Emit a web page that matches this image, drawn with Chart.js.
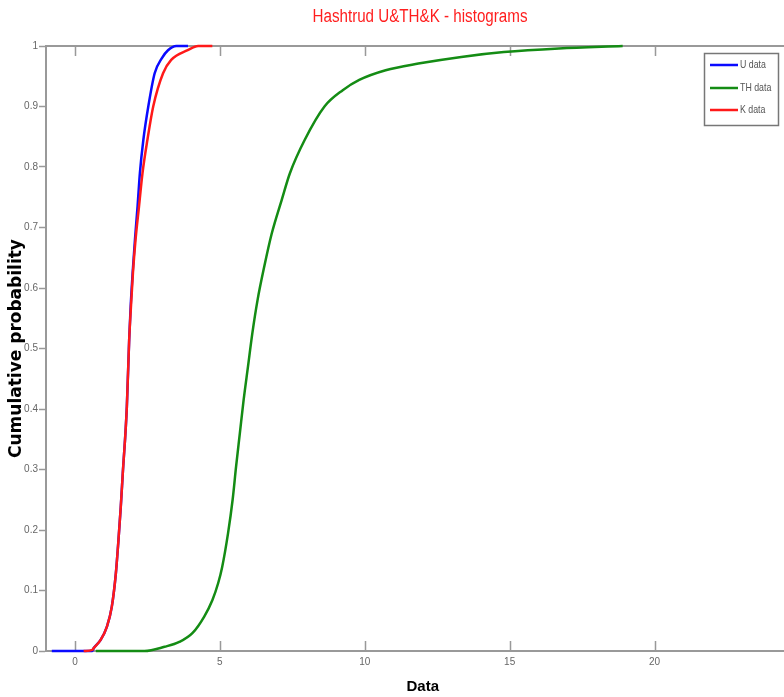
<!DOCTYPE html>
<html><head><meta charset="utf-8">
<script src="https://cdn.jsdelivr.net/npm/chart.js@4/dist/chart.umd.min.js"></script>
<style>
html,body{margin:0;padding:0;background:#fff;overflow:hidden;width:784px;height:697px}
#wrap{position:absolute;left:0;top:0;width:810px;height:697px}
</style></head><body>
<div id="wrap"><canvas id="c"></canvas></div>
<script>
const chartTitle = 'Hashtrud U&TH&K - histograms';
const xAxisTitle = 'Data';
const yAxisTitle = 'Cumulative probability';
const seriesLabels = ['U data', 'TH data', 'K data'];
const seriesColors = ['rgb(10,10,255)', 'rgb(20,140,20)', 'rgb(255,25,25)'];

const uX = [-0.8, 0.6, 0.65, 0.88, 1.1, 1.27, 1.41, 1.5, 1.58, 1.65, 1.79, 1.87, 1.92, 1.99, 2.07, 2.16, 2.24, 2.36, 2.53, 2.75, 3.0, 3.21, 3.5, 3.9];
const uY = [0, 0, 0.005, 0.018, 0.04, 0.073, 0.128, 0.183, 0.238, 0.294, 0.404, 0.514, 0.568, 0.625, 0.68, 0.735, 0.79, 0.845, 0.9, 0.955, 0.98, 0.993, 1, 1];

const thX = [0.72, 2.4, 3.09, 3.6, 4.06, 4.46, 4.74, 4.94, 5.08, 5.28, 5.44, 5.56, 5.69, 5.82, 5.97, 6.12, 6.3, 6.53, 6.79, 7.13, 7.42, 7.93, 8.61, 9.24, 9.81, 10.72, 11.85, 13.33, 14.8, 16.7, 18.9];
const thY = [0, 0, 0.007, 0.015, 0.03, 0.057, 0.084, 0.112, 0.139, 0.194, 0.25, 0.305, 0.36, 0.415, 0.47, 0.525, 0.58, 0.635, 0.69, 0.745, 0.79, 0.845, 0.9, 0.927, 0.944, 0.96, 0.971, 0.982, 0.99, 0.996, 1];

const kX = [0.3, 0.6, 0.65, 0.88, 1.1, 1.27, 1.41, 1.5, 1.58, 1.65, 1.79, 1.87, 1.93, 2.0, 2.09, 2.21, 2.33, 2.5, 2.7, 3.04, 3.32, 3.89, 4.25, 4.74];
const kY = [0, 0.002, 0.005, 0.018, 0.04, 0.073, 0.128, 0.183, 0.238, 0.294, 0.404, 0.514, 0.568, 0.625, 0.68, 0.735, 0.79, 0.845, 0.9, 0.955, 0.977, 0.993, 1, 1];

const xTicks = [0, 5, 10, 15, 20, 25];
const xTickLabels = ['0', '5', '10', '15', '20', '25'];
const yTicks = [0, 0.1, 0.2, 0.3, 0.4, 0.5, 0.6, 0.7, 0.8, 0.9, 1];
const yTickLabels = ['0', '0.1', '0.2', '0.3', '0.4', '0.5', '0.6', '0.7', '0.8', '0.9', '1'];
const xMin = -1, xMax = 25, yMin = 0, yMax = 1;

const SANS = "'Liberation Sans', Arial, sans-serif";
const AXIS = '#999';

function pts(xs, ys) { return xs.map((x, i) => ({ x: x, y: ys[i] })); }

function squeezedText(ctx, text, x, y, targetWidth) {
  const w = ctx.measureText(text).width;
  const k = targetWidth / w;
  ctx.save();
  ctx.translate(x, y);
  ctx.scale(k, 1);
  ctx.fillText(text, 0, 0);
  ctx.restore();
}

const frame = {
  id: 'frame',
  beforeDatasetsDraw(chart) {
    const { ctx, chartArea: a, scales: { x } } = chart;
    ctx.save();
    ctx.strokeStyle = AXIS;
    ctx.lineWidth = 2;
    ctx.beginPath();
    ctx.moveTo(a.left, a.top); ctx.lineTo(a.right, a.top);
    ctx.stroke();
    ctx.lineWidth = 1.5;
    ctx.beginPath();
    xTicks.forEach(v => {
      const px = Math.round(x.getPixelForValue(v)) + 0.5;
      ctx.moveTo(px, a.bottom); ctx.lineTo(px, a.bottom - 10);
      ctx.moveTo(px, a.top); ctx.lineTo(px, a.top + 10);
    });
    ctx.stroke();
    ctx.restore();
  },
  afterDatasetsDraw(chart) {
    const ctx = chart.ctx;
    ctx.save();
    // title
    ctx.fillStyle = 'rgb(255,30,30)';
    ctx.font = '18px ' + SANS;
    ctx.textAlign = 'center';
    ctx.textBaseline = 'middle';
    squeezedText(ctx, chartTitle, 420, 17, 215);
    // legend
    const bx = 704.5, by = 53.5, bw = 74, bh = 72;
    ctx.fillStyle = '#fff';
    ctx.fillRect(bx, by, bw, bh);
    ctx.strokeStyle = '#777';
    ctx.lineWidth = 1.5;
    ctx.strokeRect(bx, by, bw, bh);
    const rows = [65, 88, 110];
    ctx.font = '11px ' + SANS;
    ctx.textAlign = 'left';
    chart.data.datasets.forEach((ds, i) => {
      ctx.strokeStyle = ds.borderColor;
      ctx.lineWidth = 2.5;
      ctx.beginPath();
      ctx.moveTo(710, rows[i]); ctx.lineTo(738, rows[i]);
      ctx.stroke();
      ctx.fillStyle = '#555';
      const w = ctx.measureText(ds.label).width;
      squeezedText(ctx, ds.label, 740, rows[i], w * 0.8);
    });
    ctx.restore();
  }
};

new Chart(document.getElementById('c'), {
  type: 'scatter',
  data: {
    datasets: [
      { label: seriesLabels[0], data: pts(uX, uY), borderColor: seriesColors[0], order: 2 },
      { label: seriesLabels[1], data: pts(thX, thY), borderColor: seriesColors[1], order: 1 },
      { label: seriesLabels[2], data: pts(kX, kY), borderColor: seriesColors[2], order: 0 }
    ].map(d => Object.assign(d, {
      showLine: true, pointRadius: 0, borderWidth: 2.5, fill: false,
      cubicInterpolationMode: 'monotone', clip: false, backgroundColor: d.borderColor
    }))
  },
  options: {
    responsive: true,
    maintainAspectRatio: false,
    animation: false,
    layout: { padding: { top: 46, right: 2, left: 0, bottom: 0 } },
    plugins: { legend: { display: false }, tooltip: { enabled: false }, title: { display: false } },
    scales: {
      x: {
        type: 'linear', min: xMin, max: xMax,
        afterFit: s => { s.height = 46; },
        afterBuildTicks: s => { s.ticks = xTicks.map(v => ({ value: v })); },
        ticks: {
          callback: (v, i) => xTickLabels[i],
          font: { family: SANS, size: 10 }, color: '#666', padding: 5, maxRotation: 0, autoSkip: false
        },
        grid: { display: true, drawOnChartArea: false, drawTicks: false, color: AXIS },
        border: { display: true, color: AXIS, width: 2 },
        title: {
          display: true, text: xAxisTitle, color: '#000',
          font: { family: SANS, size: 15, weight: 'bold', lineHeight: 1.2 },
          padding: { top: 0, bottom: 1 }
        }
      },
      y: {
        type: 'linear', min: yMin, max: yMax,
        afterFit: s => { s.width = 46; },
        afterBuildTicks: s => { s.ticks = yTicks.map(v => ({ value: v })); },
        ticks: {
          callback: (v, i) => yTickLabels[i],
          font: { family: SANS, size: 10 }, color: '#666', padding: 1, autoSkip: false
        },
        grid: { display: true, drawOnChartArea: false, drawTicks: true, tickLength: 7, tickWidth: 1.5, color: AXIS },
        border: { display: true, color: AXIS, width: 2 },
        title: {
          display: true, text: yAxisTitle, color: '#000',
          font: { family: "'DejaVu Sans', sans-serif", size: 17, weight: 'bold', lineHeight: 1.1 },
          padding: { top: 7, bottom: 0 }
        }
      }
    }
  },
  plugins: [frame]
});
</script>
</body></html>
